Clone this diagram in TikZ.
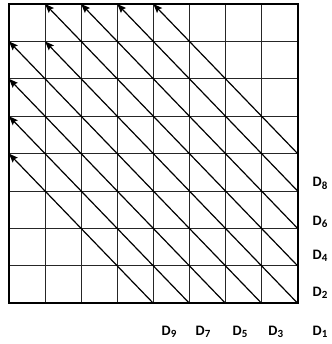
\documentclass[tikz,border=0pt]{standalone}
\usepackage{fontspec}
\setmainfont{Carlito}
\usetikzlibrary{arrows.meta}
\newcommand{\Dlab}[1]{\textbf{D\raisebox{-0.35ex}{\fontsize{11}{11}\selectfont\bfseries #1}}}
\tikzset{
  gridline/.style={draw=black!85, line width=1bp},
  border/.style={draw=black, line width=2bp},
  diag/.style={draw=black, line width=1.2bp, -{Stealth[length=9bp,width=7bp,inset=1.5bp]}},
  dlabel/.style={anchor=base west, inner sep=0pt, font=\fontsize{14.5}{14.5}\selectfont}
}
\begin{document}
\begin{tikzpicture}[x=1bp,y=-1bp]
\useasboundingbox (0,0) rectangle (332,344);
\foreach \i in {0,...,8}{
  \foreach \j in {0,...,8}{
    \coordinate (g-\i-\j) at ({9+\i*36.0875},{4+\j*37.4125});
  }
}
\foreach \i in {1,...,7}{
  \draw[gridline] (g-\i-0) -- (g-\i-8);
  \draw[gridline] (g-0-\i) -- (g-8-\i);
}
\draw[border] (g-0-0) rectangle (g-8-8);
\foreach \a/\b/\c/\d in {8/4/4/0, 8/5/3/0, 8/6/2/0, 8/7/1/0, 8/8/1/1, 7/8/0/1, 6/8/0/2, 5/8/0/3, 4/8/0/4}{
  \draw[diag] (g-\a-\b) -- (g-\c-\d);
}
\node[dlabel] (d8) at (312.5,186.7) {\Dlab{8}};
\node[dlabel] (d6) at (312.5,225) {\Dlab{6}};
\node[dlabel] (d4) at (312.5,259.3) {\Dlab{4}};
\node[dlabel] (d2) at (312.5,296) {\Dlab{2}};
\node[dlabel] (d1) at (312.5,335.5) {\Dlab{1}};
\node[dlabel] (d9) at (161.5,335.5) {\Dlab{9}};
\node[dlabel] (d7) at (195.5,335.5) {\Dlab{7}};
\node[dlabel] (d5) at (232.5,335.5) {\Dlab{5}};
\node[dlabel] (d3) at (268.2,335.5) {\Dlab{3}};
\end{tikzpicture}
\end{document}
